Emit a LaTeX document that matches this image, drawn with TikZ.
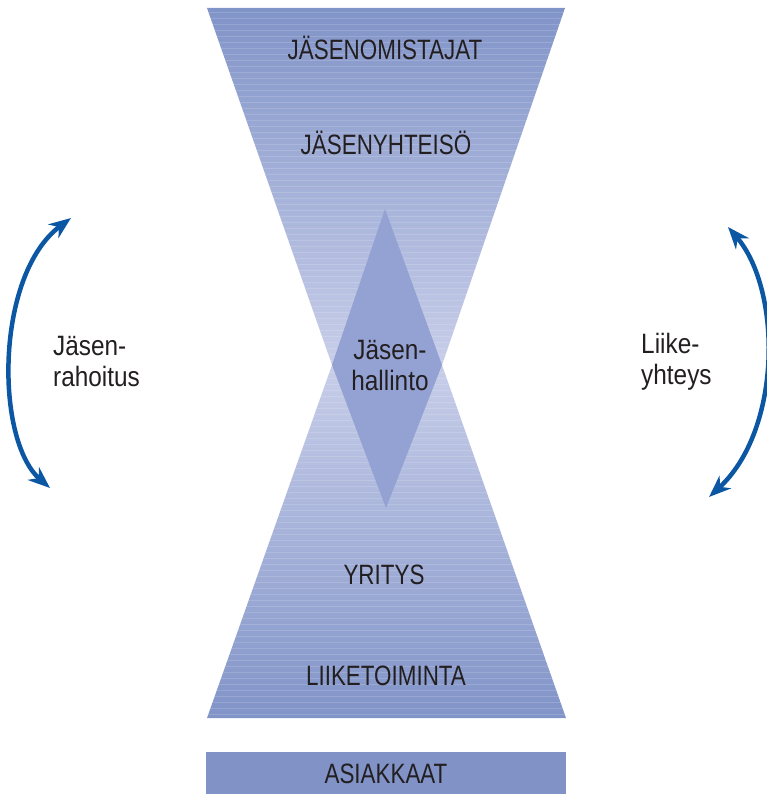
\documentclass[tikz,border=0pt]{standalone}
\usepackage{fontspec}
\setmainfont[FakeStretch=0.8]{Liberation Sans}
\newfontfamily\lcfont[FakeStretch=0.87]{Liberation Sans}
\usetikzlibrary{arrows.meta}
\definecolor{hgdark}{HTML}{8194C8}
\definecolor{hglight}{HTML}{C8CEE9}
\definecolor{dia}{HTML}{93A2D2}
\definecolor{boxc}{HTML}{8092C6}
\definecolor{arrowc}{HTML}{0B57A4}
\definecolor{txt}{HTML}{231F20}
\begin{document}
\begin{tikzpicture}[x=1pt,y=-1pt,
  lbl/.style={font=\fontsize{28}{31}\selectfont, text=txt, inner sep=0pt, align=center},
  lc/.style={font=\fontsize{28}{31}\selectfont\lcfont, text=txt, inner sep=0pt, align=center},
  side/.style={lc, align=left, anchor=west},
  flow/.style={draw=arrowc, line width=4.5pt,
    {Stealth[length=22pt,width=17pt,inset=7pt]}-{Stealth[length=22pt,width=17pt,inset=7pt]}},
  stripe/.style={white, opacity=0.15, line width=0.8pt}]
\useasboundingbox (0,0) rectangle (766,794);
% hourglass
\shade[top color=hgdark, bottom color=hglight] (207,8) -- (565,8) -- (442,365) -- (332,365) -- cycle;
\shade[top color=hglight, bottom color=hgdark] (332,365) -- (442,365) -- (566,718) -- (207,718) -- cycle;
\begin{scope}
  \clip (207,8) -- (565,8) -- (442,365) -- (566,718) -- (207,718) -- (332,365) -- cycle;
  \foreach \yy in {12,18,...,716} \draw[stripe] (200,\yy) -- (570,\yy);
\end{scope}
% diamond
\fill[dia] (385,209) -- (442,365) -- (386,508) -- (332,365) -- cycle;
% customers bar
\fill[boxc] (206,752) rectangle (566,794);
% labels
\node[lbl] (owners) at (385,48) {JÄSENOMISTAJAT};
\node[lbl] (community) at (386,143) {JÄSENYHTEISÖ};
\node[lc] (gov) at (390,366) {Jäsen-\\hallinto};
\node[lbl] (company) at (384,575) {YRITYS};
\node[lbl] (business) at (386,676) {LIIKETOIMINTA};
\node[lbl] (customers) at (386,774) {ASIAKKAAT};
\node[side] (fin) at (53,362) {Jäsen-\\rahoitus};
\node[side] (rel) at (641,362) {Liike-\\yhteys};
% arrows
\coordinate (lt) at (71,218);
\coordinate (lb) at (50,488);
\coordinate (rt) at (728,227);
\coordinate (rb) at (709,497);
\draw[flow] (lb) .. controls (-5,440) and (-5,275) .. (lt);
\draw[flow] (rt) .. controls (782,290) and (782,430) .. (rb);
\end{tikzpicture}
\end{document}
